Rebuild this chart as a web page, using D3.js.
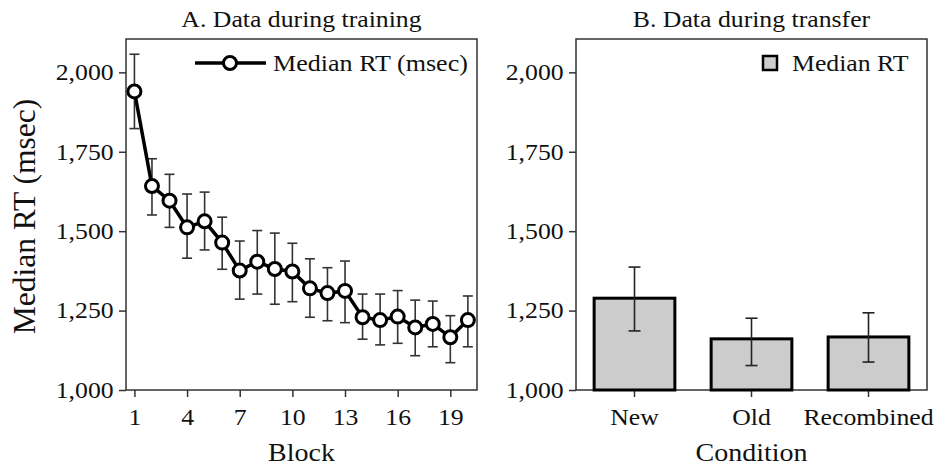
<!DOCTYPE html>
<html>
<head>
<meta charset="utf-8">
<script src="https://cdn.jsdelivr.net/npm/d3@7"></script>
<style>
body { margin: 0; background: #fff; }
text { font-family: "Liberation Serif", "Times New Roman", Times, serif; fill: #111; }
</style>
</head>
<body>
<div id="chart"></div>
<script>
// panel A - training
var blocks = [1,2,3,4,5,6,7,8,9,10,11,12,13,14,15,16,17,18,19,20];
var trainRT = [1940,1642,1596,1512,1531,1464,1376,1404,1381,1373,1320,1305,1312,1229,1220,1231,1197,1208,1166,1220];
var trainHi = [2057,1728,1679,1617,1623,1544,1469,1502,1494,1462,1413,1385,1406,1302,1302,1313,1283,1280,1234,1296];
var trainLo = [1823,1551,1512,1415,1441,1380,1286,1302,1270,1278,1229,1218,1212,1160,1142,1147,1108,1136,1086,1136];
var blockTicks = [1,4,7,10,13,16,19];

// panel B - transfer
var conditions = ["New","Old","Recombined"];
var transferRT = [1289,1161,1167];
var transferHi = [1387,1226,1243];
var transferLo = [1186,1077,1088];

var yTicks = [1000,1250,1500,1750,2000];

var W = 938, H = 469;
var top_ = 39, bottom_ = 390;
var sx = 1.12; // the figure is a bit stretched horizontally

var svg = d3.select("#chart").append("svg")
    .attr("width", W).attr("height", H);

var yScale = d3.scaleLinear()
    .domain([1000, 2105])
    .range([bottom_, top_]);

function stretch(sel){
    sel.selectAll("text").attr("transform", "scale(" + sx + ",1)");
}

function frame(x0, x1){
    svg.append("rect")
	.attr("x", x0).attr("y", top_)
	.attr("width", x1 - x0).attr("height", bottom_ - top_)
	.attr("fill", "none").attr("stroke", "#333").attr("stroke-width", 1.5);
}

function styleAxis(g){
    g.select(".domain").remove();
    g.selectAll("line").attr("stroke", "#333").attr("stroke-width", 1.5);
    g.selectAll("text").style("font-size", "23px").attr("fill", "#111")
	.attr("font-family", "Liberation Serif");
    stretch(g);
}

function yAxis(x0){
    var g = svg.append("g")
	.attr("transform", "translate(" + x0 + ",0)")
	.call(d3.axisLeft(yScale).tickValues(yTicks).tickSize(7).tickPadding(4)
	      .tickFormat(d3.format(",")));
    styleAxis(g);
}

function label(x, y, size, txt){
    svg.append("text").attr("x", x / sx).attr("y", y)
	.attr("transform", "scale(" + sx + ",1)")
	.attr("text-anchor", "middle").style("font-size", size + "px")
	.text(txt);
}

// ---------- panel A ----------
var xA0 = 126, xA1 = 477;
var xScale = d3.scaleLinear().domain([0.52, 20.52]).range([xA0, xA1]);

frame(xA0, xA1);
yAxis(xA0);

var gx = svg.append("g")
    .attr("transform", "translate(0," + bottom_ + ")")
    .call(d3.axisBottom(xScale).tickValues(blockTicks).tickSize(7).tickPadding(12));
styleAxis(gx);

var dataA = blocks.map(function(b, i){
    return {x: b, y: trainRT[i], hi: trainHi[i], lo: trainLo[i]};
});

// error bars
var eb = svg.append("g").attr("stroke", "#333").attr("stroke-width", 1.6);
dataA.forEach(function(d){
    var cx = xScale(d.x);
    eb.append("line").attr("x1", cx).attr("x2", cx)
	.attr("y1", yScale(d.hi)).attr("y2", yScale(d.lo));
    eb.append("line").attr("x1", cx - 5).attr("x2", cx + 5)
	.attr("y1", yScale(d.hi)).attr("y2", yScale(d.hi));
    eb.append("line").attr("x1", cx - 5).attr("x2", cx + 5)
	.attr("y1", yScale(d.lo)).attr("y2", yScale(d.lo));
});

var line = d3.line()
    .x(function(d){ return xScale(d.x); })
    .y(function(d){ return yScale(d.y); });

svg.append("path").datum(dataA)
    .attr("d", line)
    .attr("fill", "none").attr("stroke", "#000").attr("stroke-width", 3.5);

svg.selectAll(".pt").data(dataA).enter()
    .append("circle")
    .attr("cx", function(d){ return xScale(d.x); })
    .attr("cy", function(d){ return yScale(d.y); })
    .attr("r", 6.5)
    .attr("fill", "#fff").attr("stroke", "#000").attr("stroke-width", 3);

// legend A
svg.append("line").attr("x1", 195).attr("x2", 266).attr("y1", 63).attr("y2", 63)
    .attr("stroke", "#000").attr("stroke-width", 3.5);
svg.append("circle").attr("cx", 230).attr("cy", 63).attr("r", 6.5)
    .attr("fill", "#fff").attr("stroke", "#000").attr("stroke-width", 3);
svg.append("text").attr("x", 273 / sx).attr("y", 71)
    .attr("transform", "scale(" + sx + ",1)")
    .style("font-size", "23.3px").text("Median RT (msec)");

label((xA0 + xA1) / 2, 27, 23, "A. Data during training");
label((xA0 + xA1) / 2, 461, 25, "Block");

svg.append("text")
    .attr("transform", "translate(35," + ((top_ + bottom_) / 2 + 2) + ") rotate(-90)")
    .attr("text-anchor", "middle").style("font-size", "31.5px")
    .text("Median RT (msec)");

// ---------- panel B ----------
var xB0 = 576, xB1 = 927;
var xBand = d3.scaleBand().domain(conditions).range([xB0, xB1])
    .paddingInner(0.31).paddingOuter(0.155);

frame(xB0, xB1);
yAxis(xB0);

var gxb = svg.append("g")
    .attr("transform", "translate(0," + bottom_ + ")")
    .call(d3.axisBottom(xBand).tickSize(7).tickPadding(12));
styleAxis(gxb);

var dataB = conditions.map(function(c, i){
    return {c: c, y: transferRT[i], hi: transferHi[i], lo: transferLo[i]};
});

svg.selectAll(".bar").data(dataB).enter()
    .append("rect")
    .attr("x", function(d){ return xBand(d.c); })
    .attr("y", function(d){ return yScale(d.y); })
    .attr("width", xBand.bandwidth())
    .attr("height", function(d){ return yScale(1000) - yScale(d.y); })
    .attr("fill", "#cccccc").attr("stroke", "#000").attr("stroke-width", 3);

var ebB = svg.append("g").attr("stroke", "#222").attr("stroke-width", 1.6);
dataB.forEach(function(d){
    var cx = xBand(d.c) + xBand.bandwidth() / 2;
    ebB.append("line").attr("x1", cx).attr("x2", cx)
	.attr("y1", yScale(d.hi)).attr("y2", yScale(d.lo));
    ebB.append("line").attr("x1", cx - 6).attr("x2", cx + 6)
	.attr("y1", yScale(d.hi)).attr("y2", yScale(d.hi));
    ebB.append("line").attr("x1", cx - 6).attr("x2", cx + 6)
	.attr("y1", yScale(d.lo)).attr("y2", yScale(d.lo));
});

// legend B
svg.append("rect").attr("x", 763).attr("y", 56).attr("width", 14).attr("height", 14)
    .attr("fill", "#cccccc").attr("stroke", "#000").attr("stroke-width", 2.5);
svg.append("text").attr("x", 792 / sx).attr("y", 71)
    .attr("transform", "scale(" + sx + ",1)")
    .style("font-size", "23px").text("Median RT");

label((xB0 + xB1) / 2, 27, 23, "B. Data during transfer");
label((xB0 + xB1) / 2, 461, 25, "Condition");
</script>
</body>
</html>
